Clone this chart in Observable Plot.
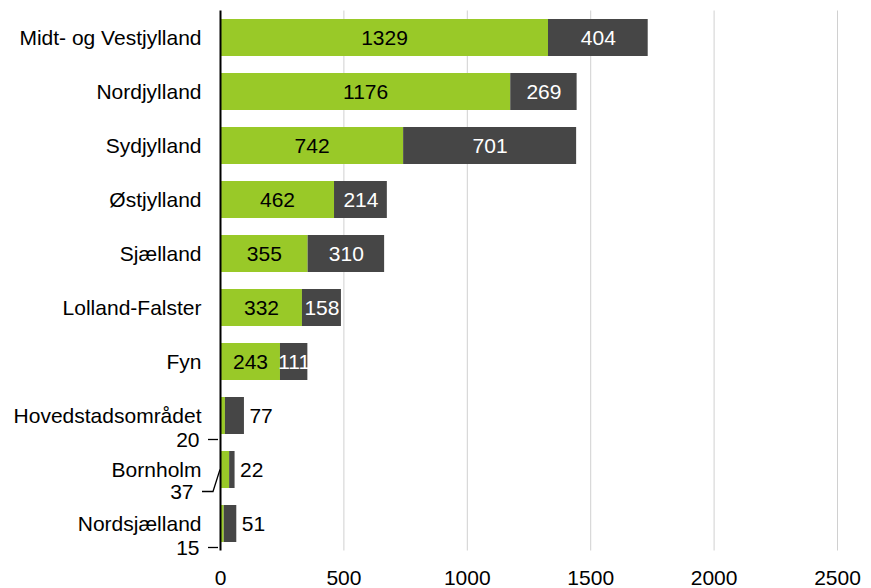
<!DOCTYPE html>
<html><head><meta charset="utf-8">
<script src="https://cdn.jsdelivr.net/npm/d3@7"></script>
<script src="https://cdn.jsdelivr.net/npm/@observablehq/plot@0.6"></script>
<style>
body{margin:0;background:#fff}
#chart svg{font-family:"Liberation Sans",Arial,sans-serif}
</style>
</head><body><div id="chart"></div>
<script>
const regions = ["Midt- og Vestjylland","Nordjylland","Sydjylland","Østjylland","Sjælland","Lolland-Falster","Fyn","Hovedstadsområdet","Bornholm","Nordsjælland"];
const greenValues = [1329,1176,742,462,355,332,243,20,37,15];
const darkValues = [404,269,701,214,310,158,111,77,22,51];
const xTicks = [0,500,1000,1500,2000,2500];
const outsideRegions = ["Hovedstadsområdet","Bornholm","Nordsjælland"];

const GREEN = "#99c928", DARK = "#464646";

const rows = regions.map((r,i)=>({region:r, green:greenValues[i], dark:darkValues[i], total:greenValues[i]+darkValues[i], outside:outsideRegions.includes(r)}));
const segs = rows.flatMap(d=>[
  {region:d.region, kind:"green", x1:0, x2:d.green, value:d.green, outside:d.outside},
  {region:d.region, kind:"dark", x1:d.green, x2:d.total, value:d.dark, outside:d.outside}
]);
const outside = rows.filter(d=>d.outside);
const bornholm = outside.filter(d=>d.region==="Bornholm");
const otherOutside = outside.filter(d=>d.region!=="Bornholm");

const plot = Plot.plot({
  width:871, height:588,
  marginLeft:220, marginRight:34, marginTop:10.5, marginBottom:37.5,
  style:{fontSize:"21px", fontFamily:"'Liberation Sans', Arial, sans-serif", color:"#000", background:"#fff"},
  x:{domain:[0,2500], ticks:xTicks, tickSize:0, tickPadding:19, label:null, tickFormat:d=>String(d)},
  y:{domain:regions, paddingInner:0.31, paddingOuter:0.155, tickSize:0, tickPadding:19, label:null},
  marks:[
    Plot.ruleX(xTicks.slice(1), {stroke:"#d0d0d0", strokeWidth:1}),
    Plot.barX(segs, {y:"region", x1:"x1", x2:"x2", fill:d=>d.kind==="green"?GREEN:DARK}),
    Plot.ruleX([0], {stroke:"#000", strokeWidth:2}),
    Plot.text(segs.filter(d=>!d.outside), {y:"region", x:d=>(d.x1+d.x2)/2, text:d=>String(d.value), fill:d=>d.kind==="green"?"#000":"#fff"}),
    Plot.text(outside, {y:"region", x:"total", text:d=>String(d.dark), textAnchor:"start", dx:5, fill:"#000"}),
    Plot.text(otherOutside, {y:"region", x:0, text:d=>String(d.green), textAnchor:"end", dx:-21, dy:24, fill:"#000"}),
    Plot.text(bornholm, {y:"region", x:0, text:d=>String(d.green), textAnchor:"end", dx:-27, dy:22, fill:"#000"})
  ]
});

document.getElementById("chart").appendChild(plot);

// leader lines for values placed outside the axis
const xs = plot.scale("x"), ys = plot.scale("y");
const svg = d3.select(plot);
const x0 = xs.apply(0);
for (const d of otherOutside) {
  const cy = ys.apply(d.region) + ys.bandwidth/2 + 24;
  svg.append("path").attr("d", `M${x0-12},${cy}H${x0-2}`).attr("stroke","#000").attr("stroke-width",1.3).attr("fill","none");
}
for (const d of bornholm) {
  const c = ys.apply(d.region) + ys.bandwidth/2;
  svg.append("path").attr("d", `M${x0-18},${c+22}H${x0-7}L${x0},${c}`).attr("stroke","#000").attr("stroke-width",1.3).attr("fill","none");
}
</script>
</body></html>
